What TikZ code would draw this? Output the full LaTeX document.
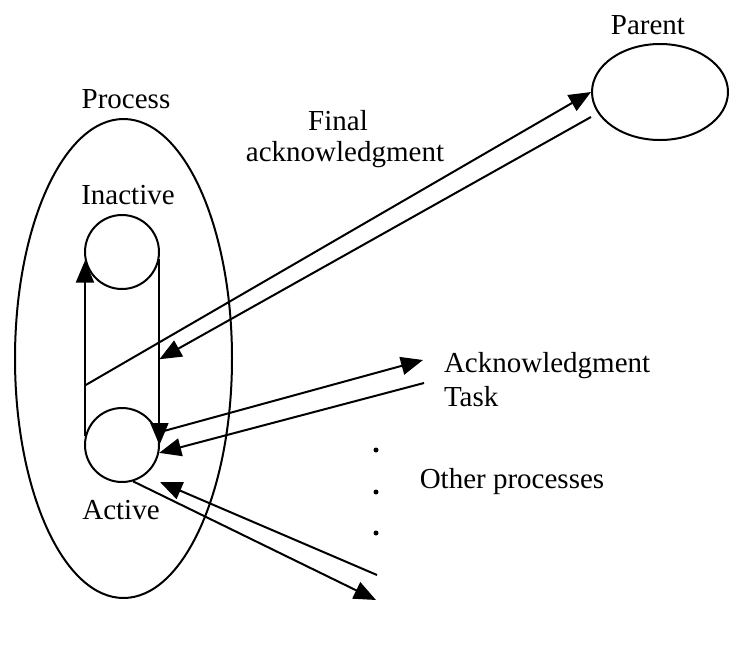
\documentclass[tikz,border=0pt]{standalone}
\usepackage{fontspec}
\setmainfont{Liberation Serif}
\usetikzlibrary{calc, positioning, arrows.meta, shapes.geometric}
\tikzstyle{circ}=[draw, shape=circle, inner sep=0pt, minimum size=37pt]
\tikzstyle{oval}=[draw, shape=ellipse, inner sep=0pt]
\tikzstyle{lbl}=[inner sep=0pt, font=\fontsize{14.5}{17}\selectfont]
\tikzstyle{smalldot}=[fill, shape=circle, inner sep=0pt, minimum size=2.5pt]
\tikzset{>={Triangle[length=11pt, width=9pt]}}

\begin{document}
\begin{tikzpicture}[x=0.5pt, y=-0.5pt, line width=1pt]
\useasboundingbox (0,0) rectangle (729,665);
% the process with its two states
\node[oval, minimum width=108.5pt, minimum height=239.5pt] (proc) at (123.5,358.5) {};
\node[circ] (inact) at (122,252) {};
\node[circ] (act) at (122,445) {};
% the parent
\node[oval, minimum width=68pt, minimum height=48pt] (par) at (660,92) {};
% the labels
\node[lbl] (proclbl) at (126,99) {Process};
\node[lbl] (inactlbl) at (128,195) {Inactive};
\node[lbl] (actlbl) at (121,510) {Active};
\node[lbl] (parlbl) at (648,25) {Parent};
\node[lbl, anchor=base] (finlbl) at (338,130) {Final};
\node[lbl, anchor=base] (acklbl) at (345,161) {acknowledgment};
\node[lbl, align=left, anchor=west] (task) at (443,380) {Acknowledgment\\Task};
\node[lbl] (other) at (512,482) {Other processes};
\foreach \y/\n in {450/1,492/2,533/3}
  \node[smalldot] (d\n) at (376,\y) {};
% free ends of the arrows
\coordinate (rbot) at (inact.-10 |- act.east);
\coordinate (pout) at ($(act.167)!0.29!(inact.193)$);
\coordinate (pin) at ($(inact.-10)!0.54!(rbot)$);
\coordinate (ackin) at (423,360);
\coordinate (ackout) at (424,383);
\coordinate (othout) at (376,600);
\coordinate (othin) at (377,575);
\coordinate (actse) at ($(act.center)+(38,37)$);
% the state changes
\draw[->] (act.167) -- (inact.193);
\draw[->] (inact.-10) -- (rbot);
% the parent
\draw[->] (pout) -- (par.west);
\draw[->] ($(par.west)+(0,25)$) -- (pin);
% the acknowledgment task
\draw[->] (act.19) -- (ackin);
\draw[->] (ackout) -- (act.-12);
% the other processes
\draw[->] (act.-73) -- (othout);
\draw[->] (othin) -- (actse);
\end{tikzpicture}
\end{document}
